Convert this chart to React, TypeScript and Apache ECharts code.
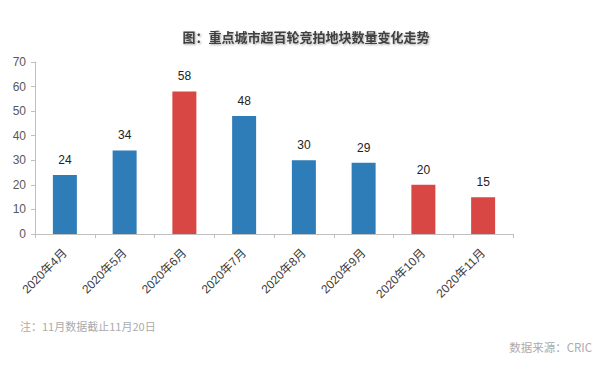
import React, { useEffect, useRef } from "react";
import * as echarts from "echarts";

const categories = ["2020年4月", "2020年5月", "2020年6月", "2020年7月", "2020年8月", "2020年9月", "2020年10月", "2020年11月"];
const values = [24, 34, 58, 48, 30, 29, 20, 15];
const highlighted = [false, false, true, false, false, false, true, true];
const titleText = "图：重点城市超百轮竞拍地块数量变化走势";
const noteText = "注：11月数据截止11月20日";
const sourceText = "数据来源：CRIC";

const BLUE = "#2E7DB8";
const RED = "#D94744";
const FONT = "'Liberation Sans', 'Noto Sans CJK SC', sans-serif";

export default function App() {
  const ref = useRef<HTMLDivElement>(null);
  useEffect(() => {
    if (!ref.current) return;
    const chart = echarts.init(ref.current, undefined, { renderer: "svg" });
    chart.setOption({
      animation: false,
      backgroundColor: "#ffffff",
      textStyle: { fontFamily: FONT },
      grid: { left: 35, right: 87, top: 62, bottom: 138, containLabel: false },
      xAxis: {
        type: "category",
        data: categories,
        boundaryGap: true,
        axisLine: { lineStyle: { color: "#bfbfbf", width: 1 } },
        axisTick: { show: true, alignWithLabel: false, length: 4, lineStyle: { color: "#bfbfbf" } },
        axisLabel: { rotate: 45, margin: 17, fontSize: 12, color: "#404040", fontFamily: FONT, interval: 0 },
      },
      yAxis: {
        type: "value",
        min: 0,
        max: 70,
        interval: 10,
        splitLine: { show: false },
        axisLine: { show: true, lineStyle: { color: "#bfbfbf", width: 1 } },
        axisTick: { show: true, length: 4, lineStyle: { color: "#bfbfbf" } },
        axisLabel: { fontSize: 12, color: "#595959", margin: 9, fontFamily: FONT },
      },
      series: [
        {
          type: "bar",
          data: values.map((v, i) => ({ value: v, itemStyle: { color: highlighted[i] ? RED : BLUE } })),
          barWidth: 24,
          label: { show: true, position: "top", distance: 9, fontSize: 12, color: "#222222", fontFamily: FONT },
        },
      ],
      graphic: [
        {
          type: "text",
          x: 306,
          y: 36,
          style: {
            text: titleText,
            textAlign: "center",
            textVerticalAlign: "middle",
            fontSize: 13,
            fontWeight: "bold",
            fill: "#404040",
            fontFamily: "'Noto Sans CJK SC', sans-serif",
            textShadowColor: "rgba(0,0,0,0.35)",
            textShadowBlur: 2,
            textShadowOffsetX: 1,
            textShadowOffsetY: 1,
          },
        },
        {
          type: "text",
          x: 20,
          y: 326,
          style: {
            text: noteText,
            textVerticalAlign: "middle",
            fontSize: 11,
            fill: "#ababab",
            fontFamily: "'Noto Sans CJK SC', sans-serif",
          },
        },
        {
          type: "text",
          x: 592,
          y: 347,
          style: {
            text: sourceText,
            textAlign: "right",
            textVerticalAlign: "middle",
            fontSize: 11.5,
            fill: "#ababab",
            fontFamily: "'Noto Sans CJK SC', sans-serif",
          },
        },
      ],
    });
    return () => chart.dispose();
  }, []);
  return <div ref={ref} style={{ position: "fixed", left: 0, top: 0, width: 600, height: 372 }} />;
}
